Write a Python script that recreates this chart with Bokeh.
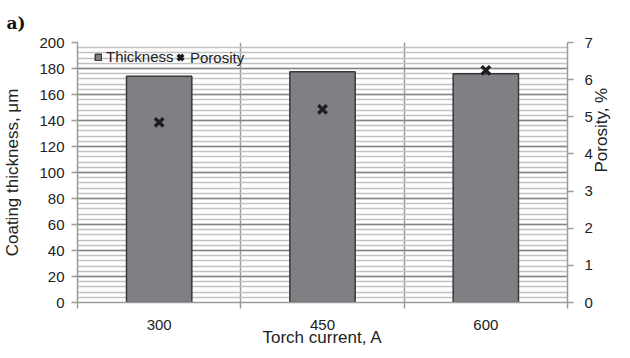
import math
from bokeh.plotting import figure
from bokeh.models import (Range1d, LinearAxis, FixedTicker, SingleIntervalTicker,
                          Legend, LegendItem, Title, ColumnDataSource)
from bokeh.embed import file_html
from bokeh.resources import INLINE

categories = ["300", "450", "600"]
thickness = [174, 177.5, 176]
porosity = [4.85, 5.2, 6.25]

x_pos = [i + 0.5 for i in range(len(categories))]
src = ColumnDataSource(dict(x=x_pos, t=thickness, p=porosity))

FONT = "Liberation Sans"
TXT = "#222222"
AX = "#9a9a9a"

p = figure(frame_width=490, frame_height=260, output_backend="svg", toolbar_location=None,
           x_range=Range1d(0, len(categories)), y_range=Range1d(0, 200),
           min_border_left=77, min_border_right=47, min_border_top=42, min_border_bottom=40,
           background_fill_color="white", border_fill_color="white")
p.outline_line_color = None
p.extra_y_ranges = {"por": Range1d(0, 7)}

# grids
p.xgrid.ticker = FixedTicker(ticks=[1, 2, 3])
p.xgrid.grid_line_color = AX
p.xgrid.grid_line_width = 1.5
p.ygrid.ticker = SingleIntervalTicker(interval=20, num_minor_ticks=5)
p.ygrid.grid_line_color = "#858585"
p.ygrid.grid_line_width = 1.3
p.ygrid.minor_grid_line_color = "#c2c2c2"
p.ygrid.minor_grid_line_width = 1.3

bars = p.vbar(x="x", top="t", width=0.4, source=src, fill_color="#7f8083",
              line_color="#383838", line_width=1.5)
pts = p.scatter(x="x", y="p", source=src, y_range_name="por", marker="x", size=12,
                line_color="#1e1e1e", line_width=3.5)

# x axis
xa = p.xaxis[0]
xa.ticker = FixedTicker(ticks=x_pos, minor_ticks=[0, 1, 2, 3])
xa.major_label_overrides = {x: c for x, c in zip(x_pos, categories)}
xa.major_tick_out = 0
xa.major_tick_in = 0
xa.minor_tick_out = 6
xa.minor_tick_in = 0
xa.minor_tick_line_color = AX
xa.minor_tick_line_width = 1.5
xa.axis_line_color = AX
xa.axis_line_width = 1.5
xa.major_label_standoff = 11
xa.major_label_text_font = FONT
xa.major_label_text_font_size = "15px"
xa.major_label_text_color = TXT
xa.axis_label = "Torch current, A"
xa.axis_label_text_font = FONT
xa.axis_label_text_font_style = "normal"
xa.axis_label_text_font_size = "17px"
xa.axis_label_text_color = TXT
xa.axis_label_standoff = -5

# left axis
ya = p.yaxis[0]
ya.ticker = SingleIntervalTicker(interval=20, num_minor_ticks=5)
ya.major_tick_out = 6
ya.major_tick_in = 0
ya.minor_tick_out = 0
ya.minor_tick_in = 0
ya.major_tick_line_color = AX
ya.major_tick_line_width = 1.5
ya.axis_line_color = AX
ya.axis_line_width = 1.5
ya.major_label_standoff = 7
ya.major_label_text_font = FONT
ya.major_label_text_font_size = "15px"
ya.major_label_text_color = TXT
ya.axis_label = "Coating thickness, μm"
ya.axis_label_text_font = FONT
ya.axis_label_text_font_style = "normal"
ya.axis_label_text_font_size = "17px"
ya.axis_label_text_color = TXT
ya.axis_label_standoff = 14

# right axis
ra = LinearAxis(y_range_name="por", ticker=SingleIntervalTicker(interval=1))
ra.major_tick_out = 6
ra.major_tick_in = 0
ra.minor_tick_out = 0
ra.minor_tick_in = 0
ra.major_tick_line_color = AX
ra.major_tick_line_width = 1.5
ra.axis_line_color = AX
ra.axis_line_width = 1.5
ra.major_label_standoff = 11
ra.major_label_text_font = FONT
ra.major_label_text_font_size = "15px"
ra.major_label_text_color = TXT
ra.axis_label = "Porosity, %"
ra.axis_label_text_font = FONT
ra.axis_label_text_font_style = "normal"
ra.axis_label_text_font_size = "17px"
ra.axis_label_text_color = TXT
ra.axis_label_standoff = 6
if "axis_label_orientation" in ra.properties():
    ra.axis_label_orientation = math.pi / 2
p.add_layout(ra, "right")

legend_a = Legend(items=[LegendItem(label="Thickness", renderers=[bars])],
                  orientation="horizontal", location=(17, 237),
                  background_fill_alpha=0, border_line_color=None,
                  label_text_font=FONT, label_text_font_size="15px",
                  label_text_color=TXT, glyph_width=8, glyph_height=8,
                  label_standoff=4, spacing=0, padding=0, margin=0,
                  label_height=14)
legend_b = Legend(items=[LegendItem(label="Porosity", renderers=[pts])],
                  orientation="horizontal", location=(93, 235),
                  background_fill_alpha=0, border_line_color=None,
                  label_text_font=FONT, label_text_font_size="15px",
                  label_text_color=TXT, glyph_width=20, glyph_height=20,
                  label_standoff=0, spacing=0, padding=0, margin=0,
                  label_height=14)
p.add_layout(legend_a)
p.add_layout(legend_b)

title = Title(text="a)", text_font="DejaVu Serif", text_font_style="bold",
              text_font_size="17px", text_color="#111111", align="left",
              offset=-71, standoff=20)
p.add_layout(title, "above")

open("out.html", "w").write(file_html(p, INLINE))
